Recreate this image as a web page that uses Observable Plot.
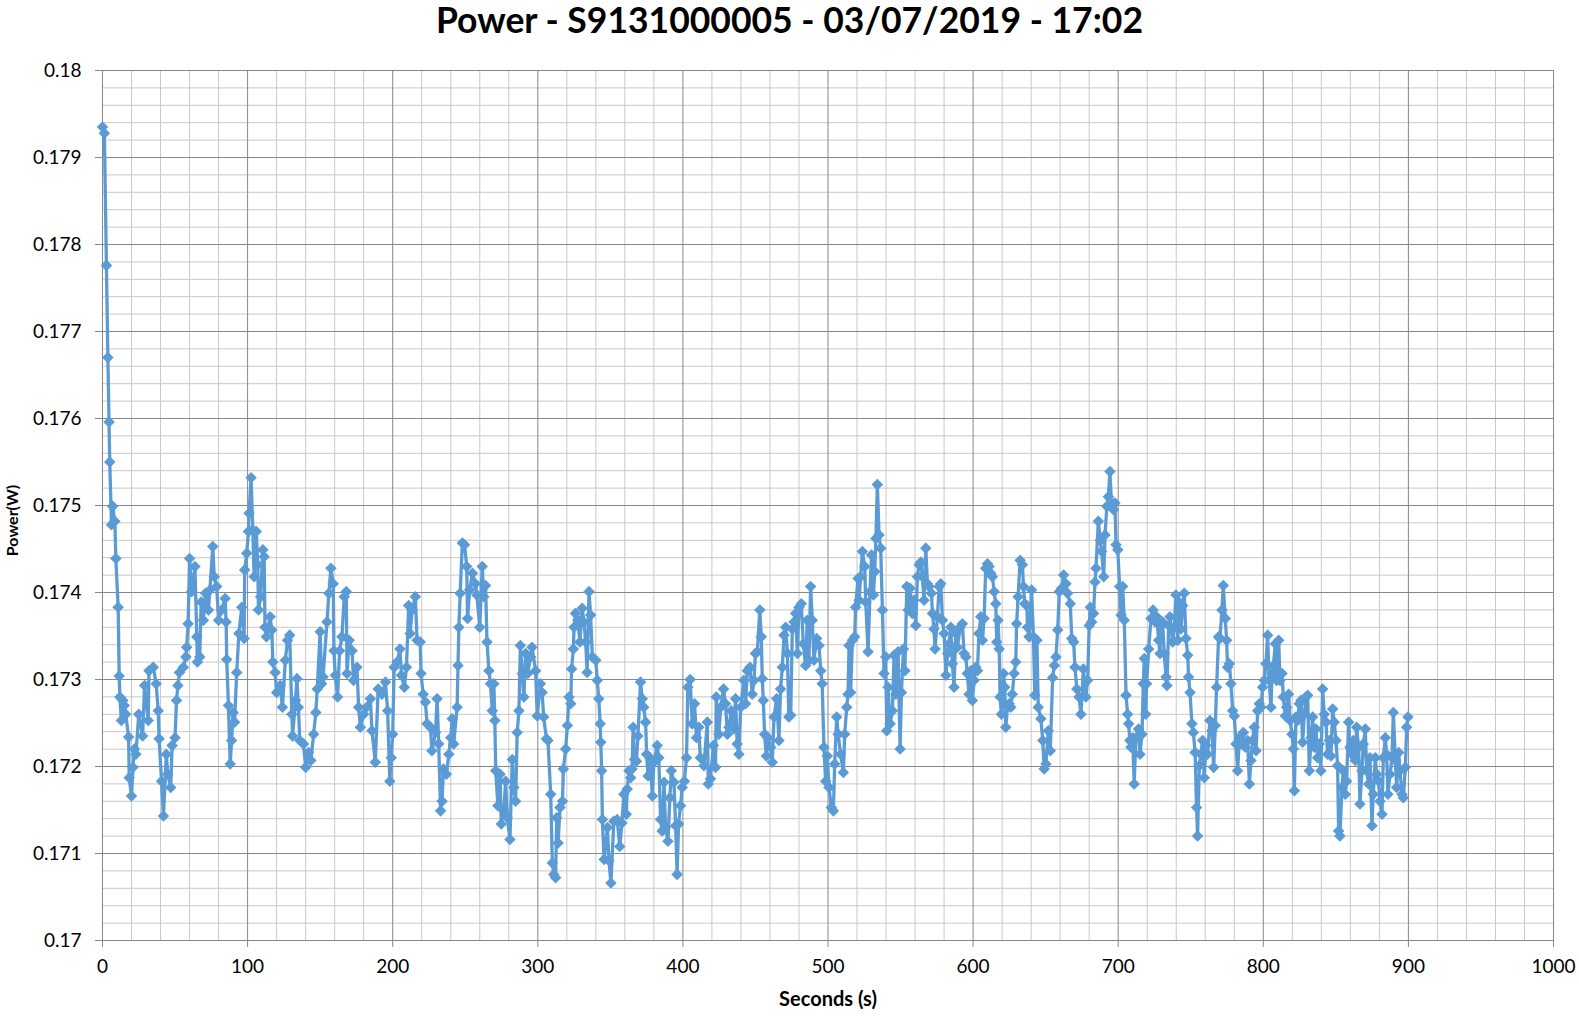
<!DOCTYPE html>
<html><head><meta charset="utf-8">
<script src="https://cdn.jsdelivr.net/npm/d3@7"></script>
<script src="https://cdn.jsdelivr.net/npm/@observablehq/plot@0.6"></script>
<style>
html,body{margin:0;padding:0;background:#fff;}
body{width:1579px;height:1019px;overflow:hidden;font-family:Lato,"Open Sans",sans-serif;}
#title{height:44px;line-height:40px;text-align:center;font-weight:bold;font-size:35.5px;color:#000;white-space:nowrap;}
</style></head><body>
<div id="title">Power - S9131000005 - 03/07/2019 - 17:02</div>
<div id="chart"></div>
<script>
// [seconds, power (W)], by 100 s segment
const seg000 = [[0,0.17935],[1.3,0.17928],[2.7,0.17776],[3.7,0.1767],[4.5,0.17596],[5,0.1755],[6.2,0.17478],[7,0.17499],[8.5,0.17482],[9.2,0.17439],[10.8,0.17383],[11.5,0.17304],[12,0.1728],[13,0.17253],[14,0.17276],[15,0.1727],[16,0.1726],[18,0.17234],[18.4,0.17187],[20,0.17166],[21,0.17199],[22,0.1722],[23,0.17214],[25,0.1726],[27.6,0.17235],[29,0.17293],[31.5,0.17253],[32,0.1731],[35,0.17314],[37,0.17295],[38.4,0.17264],[39,0.17232],[40.7,0.17183],[42,0.17143],[44,0.17214],[45,0.17191],[47,0.17176],[48,0.17224],[50,0.17233],[51,0.17276],[52,0.17293],[53,0.17308],[55.7,0.17314],[57.5,0.17326],[58,0.17337],[59,0.17364],[60,0.17439],[61.4,0.17401],[63.7,0.1743],[65,0.17349],[65.4,0.1732],[67,0.17326],[68,0.17389],[69.5,0.17368],[71,0.17399],[73,0.1738],[74,0.17403],[76,0.17453],[77,0.17418],[78.7,0.17407],[80,0.17368],[82,0.1738],[84.5,0.17393],[85.2,0.17366],[85.6,0.17323],[86.8,0.1727],[88,0.17203],[89,0.1723],[90,0.17262],[91,0.17251],[92.5,0.17308],[94,0.17353],[96,0.17383],[97.6,0.17347],[98,0.17426],[99.4,0.17445]];
const seg100 = [[100.6,0.1747],[101,0.17491],[102.4,0.17532],[103.6,0.17472],[104.5,0.17418],[106,0.1747],[107,0.17432],[107.5,0.1738],[109,0.17395],[110.5,0.17449],[111.4,0.17441],[112,0.1736],[113,0.17349],[115.5,0.17372],[116.7,0.17357],[117.4,0.1732],[119,0.17308],[120,0.17285],[122.4,0.17293],[124,0.17268],[126,0.17322],[127.5,0.17345],[129,0.17351],[130.5,0.1726],[131,0.17235],[133,0.17276],[134,0.17301],[135,0.17268],[136,0.1723],[138.5,0.17226],[140,0.17199],[142,0.17216],[143.6,0.17207],[145.5,0.17237],[147,0.17262],[148,0.17289],[150,0.17355],[151,0.17295],[152,0.17303],[154.7,0.17366],[156,0.17399],[157.4,0.17428],[159,0.1741],[159.5,0.17333],[160.4,0.17305],[162,0.1728],[163.4,0.17333],[165,0.17349],[166.6,0.17395],[168,0.17401],[168.5,0.17307],[170,0.17345],[172,0.17333],[173,0.17299],[175.4,0.17314],[176.5,0.17268],[177.7,0.17245],[180,0.1726],[182,0.17268],[184.6,0.17278],[185.7,0.17241],[188,0.17205],[190,0.17289],[192.6,0.17283],[195,0.17297],[196.5,0.17264],[198,0.17183],[199,0.1721]];
const seg200 = [[200,0.17237],[201,0.17314],[203,0.1732],[205,0.17335],[206,0.17305],[208,0.17291],[209.5,0.17314],[211,0.17385],[212,0.17353],[213.4,0.1738],[215.6,0.17395],[216.8,0.17345],[219,0.17343],[219.5,0.17307],[221,0.17283],[222.5,0.17274],[223.7,0.17249],[226,0.17245],[227,0.17218],[229.5,0.17239],[230.6,0.17278],[231.7,0.17226],[233,0.17149],[234,0.1716],[235,0.17197],[237,0.17191],[238.7,0.17214],[240,0.17233],[241,0.17255],[242,0.17226],[244.4,0.17268],[245,0.17316],[245.6,0.1736],[246.5,0.17399],[248,0.17457],[249.5,0.17455],[251,0.1743],[251.6,0.1737],[253,0.17403],[255,0.17422],[257,0.1741],[258,0.17397],[260,0.1736],[261.7,0.1743],[262.8,0.17395],[264,0.17408],[265,0.17343],[266.3,0.1731],[267.4,0.17295],[268.6,0.17264],[269.7,0.17295],[270.4,0.17253],[271,0.17195],[272.5,0.17155],[274,0.17191],[274.8,0.17134],[276.6,0.17149],[277.8,0.17183],[279,0.17141],[280.8,0.17116],[282.4,0.17208],[283.5,0.17176],[284.7,0.1716],[285.8,0.17239],[287,0.17264],[288,0.17339],[289.3,0.17307],[290.4,0.1728],[291.6,0.1733],[293,0.17307],[295,0.17326],[296,0.17337],[298.5,0.1731],[299.6,0.17258]];
const seg300 = [[301.8,0.17295],[303,0.17285],[304,0.17257],[306,0.17232],[307,0.1723],[308.9,0.17168],[310,0.17089],[311,0.17076],[312.3,0.17072],[313,0.17141],[314,0.17112],[315.3,0.17153],[317,0.1716],[317.6,0.17197],[319.2,0.1722],[320.4,0.17247],[321.5,0.1728],[322.7,0.17272],[323.3,0.17312],[324.5,0.17335],[325,0.1736],[326,0.17376],[327.6,0.17368],[329,0.17343],[330.6,0.17382],[331.8,0.17366],[333,0.17343],[334,0.17308],[335.3,0.17401],[336.4,0.17374],[337.6,0.17326],[340,0.17322],[341,0.17299],[342,0.17278],[343,0.17249],[343.4,0.17228],[344,0.17195],[344.5,0.17139],[345.7,0.17093],[348,0.1713],[349,0.17092],[350.4,0.17066],[352.4,0.17137],[354.7,0.17139],[356.5,0.17108],[358,0.17135],[359.3,0.17168],[361,0.17145],[361.6,0.17174],[362.8,0.17195],[364,0.17187],[365,0.17197],[365.7,0.17245],[366.7,0.17208],[368,0.17206],[369,0.17235],[370.8,0.17297],[372,0.17278],[373,0.17268],[374.3,0.17251],[375,0.17214],[376,0.17189],[377.2,0.1721],[379,0.17166],[380,0.17205],[382.3,0.17224],[383.4,0.1721],[384.6,0.17139],[385.7,0.17126],[387,0.17182],[388,0.1713],[389.7,0.17114],[391,0.17164],[392,0.17195],[393.8,0.17182],[395,0.17132],[396,0.17076],[397,0.17134],[398.4,0.17155],[399.5,0.17176]];
const seg400 = [[401,0.17183],[402.5,0.1721],[403.4,0.17291],[405,0.173],[406.4,0.17249],[408,0.17272],[409.4,0.17233],[411,0.17245],[412,0.1721],[414.5,0.17201],[416.8,0.17251],[417.5,0.1718],[419,0.17186],[421,0.17224],[422.5,0.17199],[423,0.1728],[424.8,0.17237],[426,0.17268],[428,0.17289],[429.4,0.17272],[430.6,0.17237],[431.7,0.17245],[433.3,0.17264],[435,0.17243],[436.3,0.17278],[437.4,0.17226],[438.6,0.17214],[439.8,0.17268],[442,0.17299],[443.2,0.17272],[444.4,0.1731],[446.2,0.17314],[447.8,0.17283],[449,0.17299],[450,0.1733],[451.3,0.17332],[453,0.1738],[454,0.17349],[454.7,0.17301],[455.4,0.17276],[456.3,0.17237],[457.5,0.17212],[458.6,0.17233],[460.5,0.17222],[461.6,0.17205],[462.8,0.17257],[464.6,0.17278],[466.2,0.1723],[467.3,0.17289],[468.5,0.17314],[469.7,0.17351],[470.8,0.1736],[472,0.1733],[473,0.17257],[474.3,0.17259],[475.4,0.17358],[476.6,0.17366],[477.7,0.17376],[478.9,0.1733],[480,0.17383],[481.6,0.17387],[483,0.17341],[484.6,0.17316],[485.7,0.17368],[486.9,0.17322],[488,0.17407],[489.2,0.17368],[490.3,0.17322],[492.2,0.17347],[493.8,0.17339],[495,0.1731],[496,0.17295],[497.2,0.17222],[498.4,0.17183],[499.5,0.17212]];
const seg500 = [[500.7,0.17176],[502.3,0.17153],[503.7,0.17149],[504.6,0.17203],[506,0.17257],[507,0.17237],[508.7,0.17214],[510.6,0.17193],[511.5,0.17237],[512.9,0.17268],[513.8,0.17283],[514.5,0.17339],[515.6,0.17285],[516.8,0.17345],[518.4,0.17349],[519,0.17383],[520.7,0.17416],[521.4,0.17391],[522.5,0.17418],[523.7,0.17447],[525.3,0.1743],[526,0.17389],[527.6,0.17332],[529,0.17401],[530,0.17443],[531.3,0.17397],[532.2,0.17424],[533,0.17462],[534,0.17524],[535.2,0.17466],[536.3,0.17451],[537.5,0.1738],[538.6,0.17307],[539.8,0.17326],[540.5,0.17241],[541.4,0.17291],[542.8,0.17249],[544.4,0.17264],[545.5,0.17328],[546.7,0.17283],[548.3,0.17332],[549.7,0.1722],[550.6,0.17285],[552,0.17335],[553,0.1731],[554.3,0.17407],[555.2,0.1738],[556.6,0.17405],[558.2,0.17376],[559.3,0.17391],[560.5,0.17362],[561.6,0.17418],[562.8,0.17432],[564,0.17435],[565,0.17418],[566.2,0.17391],[567.4,0.17451],[568.5,0.1741],[569.7,0.17407],[571.3,0.17399],[572,0.17376],[573,0.17358],[573.8,0.17335],[575.4,0.17372],[576.6,0.17407],[577.7,0.1741],[578.9,0.17368],[580,0.17353],[581.3,0.17305],[582.4,0.1733],[583.4,0.17341],[584.6,0.1736],[585.7,0.17318],[586.9,0.17291],[588,0.17353],[589.2,0.17337],[591,0.1736],[592.6,0.17364],[593.8,0.1733],[595,0.17326],[596,0.17307],[597.2,0.17283],[598.4,0.1731],[599.5,0.17276]];
const seg600 = [[600.7,0.17299],[601.8,0.17314],[603,0.1731],[604,0.17353],[605.3,0.17372],[606.4,0.17345],[607.6,0.1737],[608.7,0.17428],[609.9,0.17433],[611,0.1743],[612.2,0.17422],[613.3,0.17418],[614.5,0.17401],[615.6,0.17387],[616.3,0.17343],[617.2,0.17368],[618,0.17335],[618.6,0.1728],[619.5,0.1726],[621,0.17307],[621.8,0.17291],[622.5,0.17245],[623.7,0.17268],[624.8,0.17272],[626,0.17268],[627,0.17283],[628.3,0.17307],[629.4,0.1732],[630,0.17364],[631,0.17395],[632.4,0.17437],[634,0.17432],[634.7,0.17407],[635.6,0.17387],[637,0.17385],[637.5,0.1736],[638.6,0.17349],[640.3,0.17403],[641.6,0.17349],[642.5,0.17282],[644,0.17345],[644.9,0.17268],[646.7,0.17255],[648,0.1723],[649,0.17197],[650.2,0.17203],[651.8,0.17241],[653.2,0.17218],[654.8,0.17302],[656,0.17316],[657.1,0.17326],[658.3,0.17357],[659.4,0.17401],[661,0.17405],[662.4,0.1742],[664,0.1741],[665.1,0.17399],[667,0.17387],[668,0.17347],[669.3,0.17343],[670.2,0.17314],[671.5,0.17289],[673,0.1728],[674.3,0.1726],[676,0.17312],[677.7,0.1728],[678.9,0.17299],[680,0.17362],[680.8,0.17383],[681.7,0.17366],[683,0.17376],[684,0.17412],[684.7,0.17428],[686.3,0.17482],[687.7,0.1746],[688.6,0.17447],[690,0.17418],[690.9,0.17466],[692.2,0.17499],[693.2,0.1751],[694.3,0.17539],[695.4,0.175],[696.8,0.17495],[697.7,0.17503],[698.5,0.17455],[699.7,0.17449]];
const seg700 = [[701,0.17407],[702,0.17374],[703.1,0.17407],[704.2,0.17368],[705.4,0.17282],[706.5,0.1726],[707.2,0.17249],[708,0.1723],[708.8,0.17222],[710,0.17233],[711,0.1718],[712.2,0.17233],[714,0.17243],[715,0.17214],[716.4,0.17237],[717.3,0.17295],[718,0.17324],[719,0.1726],[719.6,0.17295],[721,0.17335],[722.6,0.1737],[724,0.1738],[725.5,0.17366],[726.5,0.17372],[727.9,0.17345],[728.8,0.1733],[729.5,0.17362],[730.6,0.17366],[731.7,0.1733],[733,0.17303],[733.6,0.17293],[734.8,0.17362],[735.7,0.17372],[737.5,0.17343],[738.6,0.1736],[739.8,0.17397],[741,0.17345],[742,0.17389],[743.2,0.17358],[744.4,0.17385],[745.5,0.17399],[746.7,0.17347],[747.9,0.17328],[748.5,0.17303],[749.5,0.17285],[750.8,0.17249],[751.8,0.17239],[753,0.17216],[754,0.17153],[754.7,0.1712],[755.9,0.17201],[757,0.17214],[758.2,0.1723],[759.3,0.17187],[760.5,0.17224],[761.6,0.17214],[763.2,0.17253],[764.6,0.17241],[765.8,0.17199],[766.9,0.17247],[767.8,0.17291],[769.2,0.17349],[770.1,0.17347],[771.5,0.1738],[772.4,0.17408],[773.8,0.1737],[774.7,0.17345],[775.4,0.17314],[776.6,0.17318],[777.7,0.17295],[778.9,0.17264],[780,0.17258],[781.2,0.17226],[782.3,0.17195],[783.5,0.17233],[784.6,0.17226],[786.2,0.17239],[787.6,0.17222],[789.2,0.1723],[790.4,0.1718],[791.5,0.17207],[792.6,0.1723],[793.8,0.17245],[795,0.17218],[796.1,0.17264],[797.2,0.17272],[798.4,0.17268],[799.5,0.17291]];
const seg800 = [[800.7,0.17299],[801.8,0.17318],[803,0.17351],[804,0.17299],[805.3,0.17268],[806,0.17307],[806.9,0.17316],[808.3,0.17341],[809.2,0.17299],[810.6,0.17345],[811.5,0.17299],[812.9,0.17307],[813.8,0.1728],[815.2,0.17258],[816.1,0.17268],[817.5,0.17283],[818.4,0.17253],[819.8,0.17237],[820.7,0.1722],[821.4,0.17172],[822.5,0.17257],[823.7,0.17253],[824.8,0.17272],[826,0.17276],[827.1,0.17228],[828.3,0.1726],[829.4,0.1728],[830.6,0.17282],[831.7,0.17195],[832.9,0.17233],[834,0.17257],[835.1,0.17222],[836.3,0.17243],[837.4,0.1721],[838.6,0.17226],[839.7,0.17195],[840.9,0.17289],[842,0.1726],[843.2,0.17251],[844.3,0.17214],[845.5,0.1723],[846.6,0.17212],[847.8,0.17266],[848.9,0.17251],[850.1,0.1723],[851.2,0.17201],[851.9,0.17126],[852.8,0.1712],[854.2,0.17176],[855.1,0.17195],[856.5,0.17168],[857.4,0.17183],[858.8,0.17251],[859.7,0.17222],[861.1,0.17214],[862,0.1723],[863.4,0.17207],[864.3,0.17245],[865.7,0.17222],[866.6,0.17157],[868,0.17195],[868.9,0.17226],[870.3,0.17243],[871.2,0.17195],[872.6,0.1718],[873.5,0.1721],[874.9,0.17132],[875.8,0.17168],[877.2,0.1721],[878.1,0.17191],[879.5,0.17183],[880.4,0.1716],[881.8,0.17145],[882.7,0.1721],[884.1,0.17233],[885,0.17214],[885.9,0.17168],[887.3,0.17191],[888.7,0.1721],[889.6,0.17262],[891,0.17207],[891.9,0.17176],[893.3,0.17216],[894.2,0.17195],[895.6,0.17168],[896.5,0.17164],[897.9,0.17199],[898.8,0.17245],[899.7,0.17257]];

const xTickValues = [0,100,200,300,400,500,600,700,800,900,1000];
const yTickValues = [0.17,0.171,0.172,0.173,0.174,0.175,0.176,0.177,0.178,0.179,0.18];
const xMinorValues = d3.range(0,1001,20).filter(v => v % 100 !== 0);
const yMinorValues = d3.range(0,51).filter(i => i % 5 !== 0).map(i => +(0.17 + i*0.0002).toFixed(4));

const data = [].concat(seg000,seg100,seg200,seg300,seg400,seg500,seg600,seg700,seg800)
  .map(([s,p]) => ({s, p}));

const diamond = {
  draw(ctx, size) {
    const r = Math.sqrt(size / 2);
    ctx.moveTo(0, -r); ctx.lineTo(r, 0); ctx.lineTo(0, r); ctx.lineTo(-r, 0); ctx.closePath();
  }
};

const font = 'Lato, "Open Sans", sans-serif';
const chart = Plot.plot({
  width: 1579, height: 975,
  marginLeft: 102, marginRight: 26, marginTop: 26, marginBottom: 79,
  x: {domain: [0, 1000]},
  y: {domain: [0.17, 0.18]},
  style: {fontFamily: font, fontSize: "19px", color: "#000", background: "#fff", overflow: "visible"},
  marks: [
    Plot.ruleX(xMinorValues, {stroke: "#c8c8c8", strokeWidth: 1}),
    Plot.ruleY(yMinorValues, {stroke: "#c8c8c8", strokeWidth: 1}),
    Plot.ruleX(xTickValues, {stroke: "#878787", strokeWidth: 1}),
    Plot.ruleY(yTickValues, {stroke: "#878787", strokeWidth: 1}),
    Plot.axisX({ticks: xTickValues, tickSize: 7, tickPadding: 12, tickFormat: d => String(d), label: null, stroke: "#878787", fill: "#000", fontSize: 19}),
    Plot.axisY({ticks: yTickValues, tickSize: 7, tickPadding: 14, tickFormat: d => String(d), label: null, stroke: "#878787", fill: "#000", fontSize: 19}),
    Plot.line(data, {x: "s", y: "p", stroke: "#5B9BD5", strokeWidth: 3.3, strokeLinejoin: "round"}),
    Plot.dot(data, {x: "s", y: "p", symbol: diamond, r: 4.6, fill: "#5B9BD5", stroke: "none"}),
    Plot.text(["Seconds (s)"], {text: d => d, frameAnchor: "bottom", dy: 65, fontWeight: "bold", fontSize: 20, fill: "#000"}),
    Plot.text(["Power(W)"], {text: d => d, frameAnchor: "left", dx: -90, dy: 15, rotate: -90, textAnchor: "middle", fontWeight: "bold", fontSize: 16, fill: "#000"})
  ]
});
document.getElementById("chart").appendChild(chart);
</script>
</body></html>
